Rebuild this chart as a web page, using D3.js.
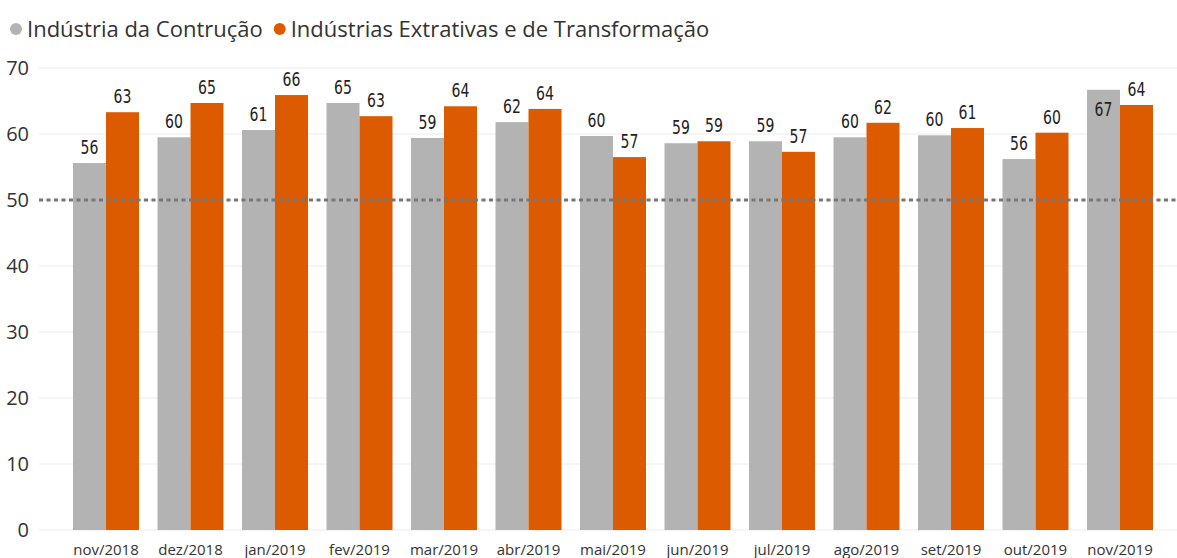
<!DOCTYPE html>
<html><head><meta charset="utf-8">
<script src="https://cdn.jsdelivr.net/npm/d3@7"></script>
<style>body{margin:0;background:#fff;overflow:hidden}</style>
</head><body><svg id="c" width="1177" height="558"></svg>
<script>
const categories = ["nov/2018","dez/2018","jan/2019","fev/2019","mar/2019","abr/2019","mai/2019","jun/2019","jul/2019","ago/2019","set/2019","out/2019","nov/2019"];
const construcao = [55.6,59.5,60.6,64.7,59.4,61.8,59.7,58.6,58.9,59.5,59.8,56.2,66.7];
const extrativas = [63.3,64.7,65.9,62.7,64.2,63.8,56.5,58.9,57.3,61.7,60.9,60.2,64.4];
const seriesNames = ["Indústria da Contrução","Indústrias Extrativas e de Transformação"];
const colors = ["#b3b3b3","#dc5b00"];
const yTicks = [0,10,20,30,40,50,60,70];
const refValue = 50;

const svg = d3.select("#c");
const y = d3.scaleLinear().domain([0,70]).range([530,68]);
const x = d3.scaleBand().domain(categories).range([63.75,1162.25]).paddingInner(0.219).paddingOuter(0.1095);
const xs = d3.scaleBand().domain([0,1]).range([0,x.bandwidth()]);

svg.append("g").selectAll("line").data(yTicks).join("line")
  .attr("x1",39).attr("x2",1177).attr("y1",d=>y(d)).attr("y2",d=>y(d))
  .attr("stroke","#ececec").attr("stroke-width",1);
svg.append("g").selectAll("text").data(yTicks).join("text")
  .attr("x",29).attr("y",d=>y(d)).attr("dy","0.35em").attr("text-anchor","end")
  .attr("font-family","'Open Sans', sans-serif").attr("font-size",20).attr("fill","#333")
  .text(d=>d);

const data = [construcao, extrativas];
data.forEach((vals,si)=>{
  svg.append("g").selectAll("rect").data(vals).join("rect")
    .attr("x",(d,i)=>x(categories[i])+xs(si)).attr("width",xs.bandwidth())
    .attr("y",d=>y(d)).attr("height",d=>y(0)-y(d))
    .attr("fill",colors[si]);
});

svg.append("line").attr("x1",39).attr("x2",1177).attr("y1",y(refValue)).attr("y2",y(refValue))
  .attr("stroke","#777").attr("stroke-width",3).attr("stroke-dasharray","4,3.5");

data.forEach((vals,si)=>{
  svg.append("g").selectAll("text").data(vals).join("text")
    .attr("transform",(d,i)=>{
      const cx = x(categories[i])+xs(si)+xs.bandwidth()/2;
      const ty = (y(d)-26 < y(70)) ? y(d)+26 : y(d)-9;
      return `translate(${cx},${ty}) scale(0.78,1)`;
    })
    .attr("text-anchor","middle")
    .attr("font-family","'DejaVu Sans Condensed','DejaVu Sans',sans-serif")
    .attr("font-stretch","condensed")
    .attr("font-size",20).attr("fill","#222")
    .text(d=>Math.round(d));
});

svg.append("g").selectAll("text").data(categories).join("text")
  .attr("x",d=>x(d)+x.bandwidth()/2).attr("y",555).attr("text-anchor","middle")
  .attr("font-family","'Open Sans', sans-serif").attr("font-size",15).attr("fill","#333")
  .text(d=>d);

const leg = svg.append("g");
let lx = 16;
seriesNames.forEach((n,i)=>{
  leg.append("circle").attr("cx",lx).attr("cy",29).attr("r",6).attr("fill",colors[i]);
  const t = leg.append("text").attr("x",lx+11).attr("y",37)
    .attr("font-family","'Open Sans', sans-serif").attr("font-size",22).attr("fill","#333").text(n);
  lx += 11 + t.node().getComputedTextLength() + 17;
});
</script></body></html>
